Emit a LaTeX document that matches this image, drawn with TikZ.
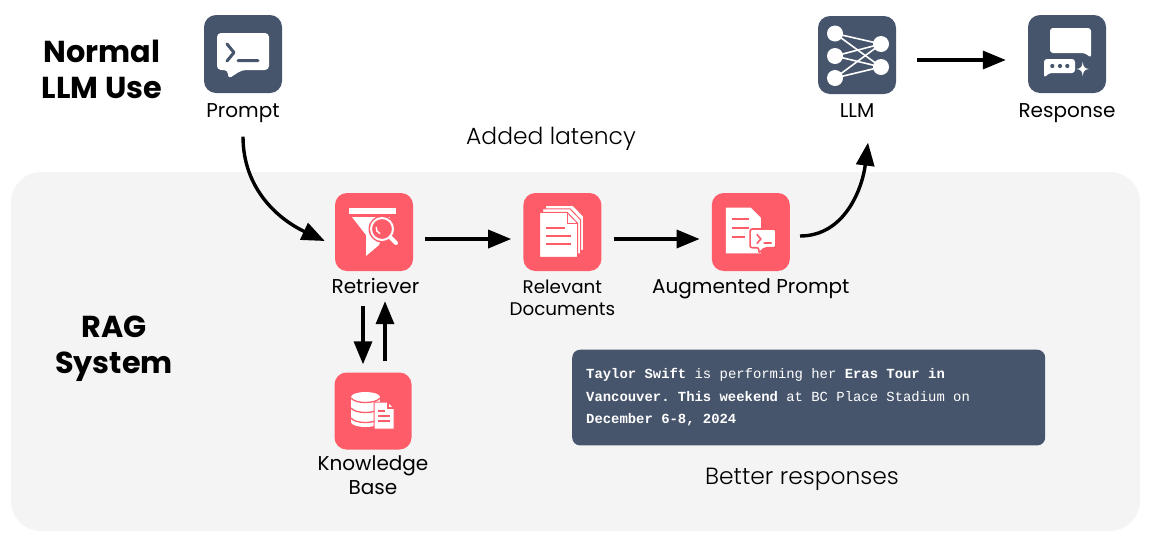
\documentclass[tikz,border=0pt]{standalone}
\usepackage{fontspec}
\setmainfont{Poppins}
\setmonofont{Liberation Mono}
\newfontfamily\lightfont[UprightFont=* Light]{Poppins}
\usetikzlibrary{arrows.meta,positioning,calc}
\definecolor{slateblue}{HTML}{46556C}
\definecolor{softpink}{HTML}{FF5C6A}
\definecolor{softgray}{HTML}{F4F4F4}
\tikzset{
  iconbox/.style={rounded corners=12pt,minimum width=78pt,minimum height=78pt,inner sep=0pt},
  darkbox/.style={iconbox,fill=slateblue},
  pinkbox/.style={iconbox,fill=softpink},
  flow/.style={-{Triangle[length=23pt,width=18pt]},line width=3.4pt,black},
  gapflow/.style={flow,shorten <=12pt,shorten >=12pt},
  caption/.style={font=\fontsize{20}{22}\selectfont,align=center,inner sep=0pt,text height=15pt,text depth=5pt},
  longcaption/.style={align=center,inner sep=0pt},
  headline/.style={font=\fontsize{30.3}{36}\selectfont\bfseries,align=center,inner sep=0pt},
  remark/.style={font=\fontsize{23.4}{28}\selectfont\lightfont,inner sep=0pt},
  pics/prompticon/.style={code={
    \fill[white,rounded corners=4pt] (-26,-21) -- (26,-21) -- (26,16) -- (-1,16) -- (-15,25) -- (-15,16) -- (-26,16) -- cycle;
    \draw[slateblue,line width=3pt,line cap=round,line join=round] (-16,-10) -- (-9,-1.5) -- (-16,7) (-5,6.5) -- (15,6.5);
  }},
  pics/llmicon/.style={code={
    \foreach \ly in {-21.5,1,23}
      \foreach \ry in {-11,12}
        \draw[white,line width=1.6pt] (-22,\ly) -- (24,\ry);
    \foreach \ly in {-21.5,1,23} \fill[white] (-22,\ly) circle (8);
    \foreach \ry in {-11,12} \fill[white] (24,\ry) circle (8);
  }},
  pics/responseicon/.style={code={
    \fill[white,rounded corners=3pt] (-17,-26) -- (24,-26) -- (24,4) -- (18,-1) -- (-17,-1) -- cycle;
    \fill[white,rounded corners=3pt] (-23,5) -- (8,5) -- (8,19) -- (-18,19) -- (-23,24) -- cycle;
    \foreach \dx in {-14.7,-7,0.3} \fill[slateblue] (\dx,12) circle (2.1);
    \fill[white] (15.7,8) .. controls (16.3,13) and (17.5,14.5) .. (22,15) .. controls (17.5,15.5) and (16.3,17) .. (15.7,22) .. controls (15.1,17) and (13.9,15.5) .. (9.4,15) .. controls (13.9,14.5) and (15.1,13) .. (15.7,8) -- cycle;
  }},
  pics/filtericon/.style={code={
    \fill[white] (-25,-24) rectangle (22,-18);
    \fill[white] (-22,-15) -- (16,-15) -- (5,13) -- (-8,24) -- (-8,3) -- cycle;
    \fill[softpink] (8,-3) circle (13.5);
    \draw[white,line width=2pt] (8,-3) circle (11);
    \draw[white,line width=1.4pt] (2.2,-5) arc[start angle=190,end angle=110,radius=6];
    \draw[white,line width=4pt,line cap=round] (16.5,5.5) -- (22,11);
  }},
  pics/docsicon/.style={code={
    \foreach \off in {6,3,0}
      \filldraw[fill=white,draw=softpink,line width=1pt,shift={(\off,-\off*1.15)}] (-22.7,-19.7) -- (4.7,-19.7) -- (15.3,-8.7) -- (15.3,25.3) -- (-22.7,25.3) -- cycle;
    \draw[softpink,line width=1pt] (4.7,-19.7) -- (4.7,-8.7) -- (15.3,-8.7);
    \draw[softpink,line width=1.8pt] (-16,-4.3) -- (2.3,-4.3) (-16,4) -- (9,4) (-16,12.3) -- (9,12.3);
  }},
  pics/augmenticon/.style={code={
    \fill[white] (-25,-24.3) -- (0,-24.3) -- (10,-14.3) -- (10,21.3) -- (-25,21.3) -- cycle;
    \draw[softpink,line width=1.8pt] (-19.3,-12.7) -- (-1.7,-12.7) (-19.3,-4.3) -- (-1.7,-4.3) (-19.3,5) -- (-6,5);
    \filldraw[fill=white,draw=softpink,line width=1.6pt,rounded corners=2pt] (-0.7,-3) -- (25,-3) -- (25,15.7) -- (14,15.7) -- (8,21) -- (8,15.7) -- (-0.7,15.7) -- cycle;
    \draw[softpink,line width=1.6pt] (6,2.3) -- (10,7) -- (6,11.7) (12.7,11) -- (20.7,11);
  }},
  pics/kbaseicon/.style={code={
    \fill[white] (-22,-14) rectangle (7,11);
    \fill[white] (-7.5,11) ellipse (14.5 and 5);
    \fill[white] (-7.5,-14) ellipse (14.5 and 5);
    \foreach \sy in {-13,-3,7}
      \draw[softpink,line width=1.3pt] (-22,\sy) .. controls (-18,\sy+6) and (3,\sy+6) .. (7,\sy);
    \filldraw[fill=white,draw=softpink,line width=1pt] (1,-9) -- (15,-9) -- (21,-3) -- (21,18) -- (1,18) -- cycle;
    \draw[softpink,line width=1.3pt] (15,-9) -- (15,-3) -- (21,-3) (5,0) -- (12,0) (5,5) -- (17,5) (5,10) -- (17,10);
  }}
}
\begin{document}
\begin{tikzpicture}[x=1pt,y=-1pt]
\useasboundingbox (0,0) rectangle (1153,539);
\node[fill=softgray,rounded corners=30pt,minimum width=1129pt,minimum height=359pt,inner sep=0pt] (panel) at (575.5,351.5) {};
% top row
\node[darkbox] (prompt) at (243,54) {};
\node[darkbox] (llm) at (857,55) {};
\node[darkbox] (response) at (1067,54) {};
\node[caption,below=9pt of prompt] (promptlabel) {Prompt};
\node[caption,below=8pt of llm] (llmlabel) {LLM};
\node[caption,below=9pt of response] (responselabel) {Response};
\pic at (prompt) {prompticon};
\pic at (llm) {llmicon};
\pic at (response) {responseicon};
% rag row
\node[pinkbox] (retriever) at (374,232) {};
\node[pinkbox,right=110pt of retriever] (docs) {};
\node[pinkbox,right=110pt of docs] (augmented) {};
\node[pinkbox,minimum width=77pt,minimum height=77pt] (kbase) at (373,411) {};
\node[caption,below=7pt of retriever,xshift=1.5pt] (retrieverlabel) {Retriever};
\node[longcaption,below=9pt of docs,font=\fontsize{18.3}{22}\selectfont] (docslabel) {Relevant\\Documents};
\node[caption,below=7pt of augmented] (augmentedlabel) {Augmented Prompt};
\node[longcaption,below=6pt of kbase,font=\fontsize{20}{24}\selectfont] (kbaselabel) {Knowledge\\Base};
\pic at (retriever) {filtericon};
\pic at (docs) {docsicon};
\pic at (augmented) {augmenticon};
\pic at (kbase) {kbaseicon};
% text
\node[headline] (normal) at (102,69) {Normal\\LLM Use};
\node[headline] (rag) at (114,349) {RAG\\System};
\node[remark] (latency) at (551,139) {Added latency};
\node[remark] (better) at (802,479) {Better responses};
\node[fill=slateblue,rounded corners=8pt,text=white,text width=445pt,inner xsep=14pt,inner ysep=19pt,align=left,font=\fontsize{13.9}{22.5}\selectfont\ttfamily,anchor=north west] (answer) at (572,349.5) {\spaceskip=.6em\xspaceskip=.6em\relax\textbf{Taylor Swift} is performing her \textbf{Eras Tour in}\\\textbf{Vancouver. This weekend} at BC Place Stadium on\\\textbf{December 6-8, 2024}};
% arrows
\draw[flow] (promptlabel.south) ++(0,14) to[out=-90,in=155] ([shift={(-10pt,-9pt)}]retriever.west);
\draw[gapflow] ([yshift=-7pt]retriever.east) -- ([yshift=-7pt]docs.west);
\draw[gapflow] ([yshift=-7pt]docs.east) -- ([yshift=-7pt]augmented.west);
\draw[flow] ([shift={(10pt,-4pt)}]augmented.east) to[out=0,in=-97] ([shift={(11pt,-20pt)}]llmlabel.south);
\draw[gapflow,shorten <=21pt,shorten >=22pt] ([yshift=-5pt]llm.east) -- ([yshift=-6pt]response.west);
\draw[flow] ([shift={(-11pt,-35pt)}]retriever.south) -- ([shift={(-10pt,8pt)}]kbase.north);
\draw[flow] ([shift={(12pt,11pt)}]kbase.north) -- ([shift={(11pt,-30pt)}]retriever.south);
\end{tikzpicture}
\end{document}
